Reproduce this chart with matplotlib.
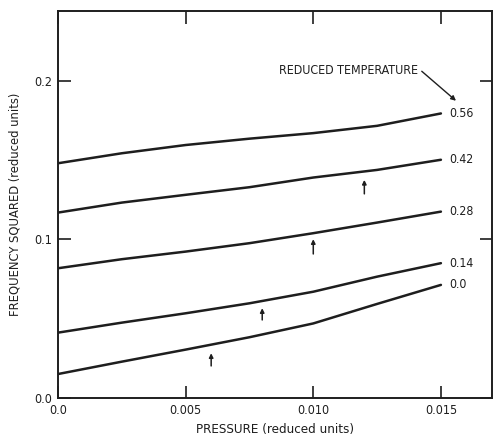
import matplotlib
matplotlib.use('Agg')
import matplotlib.pyplot as plt

# Data
pressure = [0.0, 0.0025, 0.005, 0.0075, 0.010, 0.0125, 0.015]
temps = ['0.56', '0.42', '0.28', '0.14', '0.0']
freq_sq = {
    '0.56': [0.1480, 0.1543, 0.1595, 0.1635, 0.1670, 0.1716, 0.1794],
    '0.42': [0.1169, 0.1232, 0.1281, 0.1329, 0.1390, 0.1438, 0.1502],
    '0.28': [0.0818, 0.0875, 0.0923, 0.0976, 0.1039, 0.1106, 0.1175],
    '0.14': [0.0412, 0.0475, 0.0534, 0.0597, 0.0670, 0.0765, 0.0850],
    '0.0':  [0.0151, 0.0229, 0.0305, 0.0383, 0.0470, 0.0593, 0.0713],
}
# small arrows under the curves: x, tip y, tail y
arrow_x = [0.0120, 0.0100, 0.0080, 0.0060]
arrow_tip = [0.1375, 0.1001, 0.0566, 0.0282]
arrow_tail = [0.1287, 0.0908, 0.0492, 0.0202]

plt.rcParams['font.family'] = ['DejaVu Sans']
plt.rcParams['font.stretch'] = 'condensed'
ink = '#1e1e1e'

fig = plt.figure(figsize=(4.94, 4.40), dpi=100)
ax = fig.add_axes([0.1174, 0.0955, 0.8785, 0.8795])

for t in temps:
    ax.plot(pressure, freq_sq[t], color=ink, lw=1.8, solid_capstyle='round')
    ax.text(pressure[-1] + 0.00033, freq_sq[t][-1], t, fontsize=8.8,
            va='center', ha='left', color=ink)

for x, y1, y0 in zip(arrow_x, arrow_tip, arrow_tail):
    ax.annotate('', xy=(x, y1), xytext=(x, y0),
                arrowprops=dict(arrowstyle='-|>', color=ink, lw=1.1,
                                mutation_scale=6, shrinkA=0, shrinkB=0))

ax.text(0.00865, 0.2063, 'REDUCED TEMPERATURE', fontsize=8.9, color=ink,
        va='center', ha='left')
ax.annotate('', xy=(0.01559, 0.1874), xytext=(0.01425, 0.2060),
            arrowprops=dict(arrowstyle='-|>', color=ink, lw=1.0,
                            mutation_scale=7, shrinkA=0, shrinkB=0))

ax.set_xlim(0, 0.017)
ax.set_ylim(0, 0.244)
ax.set_xticks([0.0, 0.005, 0.010, 0.015])
ax.set_xticklabels(['0.0', '0.005', '0.010', '0.015'])
ax.set_yticks([0.0, 0.1, 0.2])
ax.set_yticklabels(['0.0', '0.1', '0.2'])
ax.tick_params(direction='in', length=9, width=1.2, colors=ink,
               labelsize=9, top=True, right=True, pad=4)
for s in ax.spines.values():
    s.set_linewidth(1.4)
    s.set_color(ink)

ax.set_xlabel('PRESSURE (reduced units)', fontsize=9.6, color=ink, labelpad=5)
ax.set_ylabel('FREQUENCY SQUARED (reduced units)', fontsize=9.3, color=ink,
              labelpad=9)

fig.savefig('out.png', dpi=100)
